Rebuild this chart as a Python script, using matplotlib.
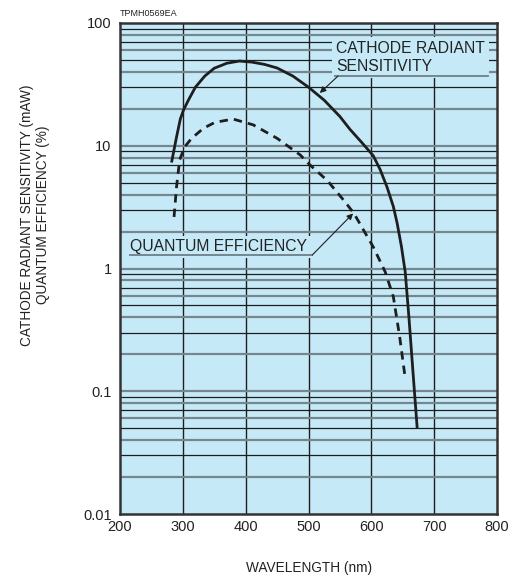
import numpy as np
import matplotlib
matplotlib.use("Agg")
import matplotlib.pyplot as plt

plt.rcParams['font.family'] = ['Liberation Sans', 'DejaVu Sans']

# cathode radiant sensitivity (mA/W)
sens_wl = [282, 290, 296, 301, 309, 320, 335, 350, 370, 390, 410, 430, 450,
           475, 500, 525, 550, 566, 585, 603, 614, 625, 635, 641, 648, 654, 660, 666, 673]
sens_val = [7.3, 11.8, 16.5, 19.5, 23.6, 30, 37, 42.8, 47, 49, 48, 46, 43,
            37, 30, 23.5, 17.3, 13.6, 10.6, 8.3, 6.4, 4.6, 3.2, 2.35, 1.5, 0.93, 0.39, 0.15, 0.05]

# quantum efficiency (%)
qe_wl = [286, 290, 295, 303, 314, 333, 351, 380, 412, 450, 487, 502, 530,
         556, 572, 603, 622, 635, 645, 654]
qe_val = [2.63, 4.64, 7.7, 9.8, 11.5, 13.9, 15.5, 16.5, 14.8, 11.5, 8.4, 7.0, 5.2,
          3.6, 2.83, 1.5, 0.94, 0.59, 0.28, 0.127]

xticks = [200, 300, 400, 500, 600, 700, 800]
yticks = [0.01, 0.1, 1, 10, 100]
ytick_labels = ['0.01', '0.1', '1', '10', '100']

bg = '#c6e9f8'
gray = '#76868f'
dark = '#1e1e1e'

fig = plt.figure(figsize=(5.12, 5.83), dpi=100)
ax = fig.add_axes([120/512, 1-514/583, 377/512, 491/583])
ax.set_facecolor(bg)
ax.set_yscale('log')
ax.set_xlim(200, 800)
ax.set_ylim(0.01, 100)

# grid: vertical lines black, horizontal lines alternate gray/black
for x in xticks[1:-1]:
    ax.axvline(x, color=dark, lw=1.0, zorder=1)
for dec in [0.01, 0.1, 1, 10]:
    for m in range(1, 10):
        if dec == 0.01 and m == 1:
            continue
        c, w = (gray, 1.6) if m % 2 == 0 or m == 1 else (dark, 0.9)
        ax.axhline(dec*m, color=c, lw=w, zorder=1)

ax.plot(sens_wl, sens_val, color=dark, lw=2.0, zorder=4, solid_capstyle='butt')
ax.plot(qe_wl, qe_val, color=dark, lw=2.0, ls=(0, (3, 2.2)), zorder=4)

for s in ax.spines.values():
    s.set_linewidth(1.8)
    s.set_color('#333333')
    s.set_zorder(5)

ax.set_xticks(xticks)
ax.set_yticks(yticks)
ax.set_yticklabels(ytick_labels)
ax.minorticks_off()
ax.tick_params(length=0, labelsize=10.5, colors='#222222')
ax.tick_params(axis='x', pad=4)
ax.tick_params(axis='y', pad=6)

# annotations
ax.text(544, 52.4, 'CATHODE RADIANT\nSENSITIVITY', fontsize=11.3, color='#222222',
        va='center', ha='left', linespacing=1.2, zorder=3,
        bbox=dict(facecolor=bg, edgecolor='none', pad=3))
ax.plot([542, 786], [37, 37], color=gray, lw=1.4, zorder=3)
ax.annotate('', xy=(518, 26.9), xytext=(547, 37),
            arrowprops=dict(arrowstyle='-|>', color=dark, lw=0.8,
                            mutation_scale=9, shrinkA=0, shrinkB=0), zorder=6)

ax.text(216, 1.5, 'QUANTUM EFFICIENCY', fontsize=11.3, color='#222222',
        va='center', ha='left', zorder=3,
        bbox=dict(facecolor=bg, edgecolor='none', pad=2.5))
ax.plot([216, 506], [1.288, 1.288], color=gray, lw=1.4, zorder=3)
ax.annotate('', xy=(571, 2.81), xytext=(506, 1.288),
            arrowprops=dict(arrowstyle='-|>', color=dark, lw=0.8,
                            mutation_scale=9, shrinkA=0, shrinkB=0), zorder=6)

fig.text(120/512, 1-13/583, 'TPMH0569EA', fontsize=6.5, color='#222222',
         ha='left', va='center')
fig.text(35/512, 1-215/583,
         'CATHODE RADIANT SENSITIVITY (mAW)\nQUANTUM EFFICIENCY (%)',
         rotation=90, fontsize=9.8, color='#222222', ha='center', va='center',
         multialignment='center', linespacing=1.15)
fig.text(309/512, 1-568/583, 'WAVELENGTH (nm)', fontsize=9.8, color='#222222',
         ha='center', va='center')

fig.savefig('out.png', dpi=100)
